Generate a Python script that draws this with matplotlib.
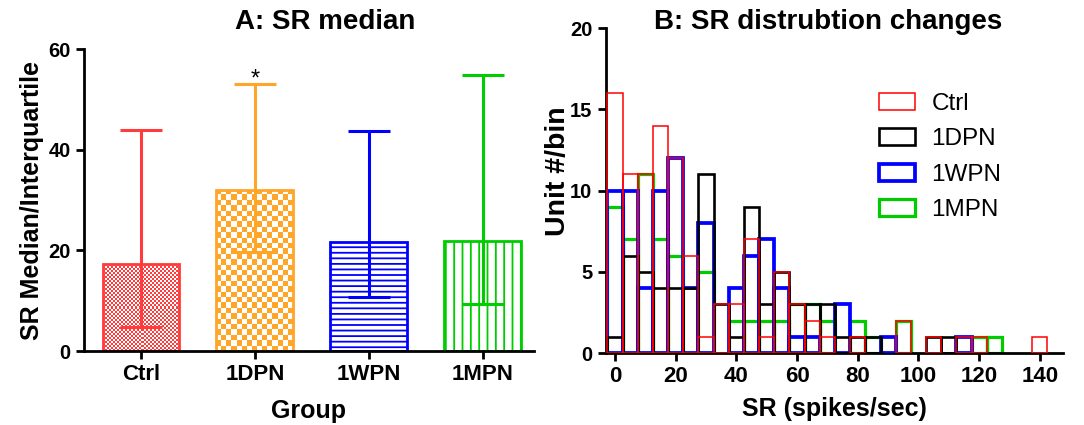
import numpy as np
import matplotlib
matplotlib.use('Agg')
import matplotlib.pyplot as plt
from matplotlib.colors import ListedColormap

plt.rcParams['font.family'] = ['Liberation Sans', 'DejaVu Sans']
plt.rcParams['hatch.linewidth'] = 1.3

# panel A : median + interquartile
groups = ['Ctrl', '1DPN', '1WPN', '1MPN']
medians = [17.2, 32.0, 21.7, 21.9]
q_low = [4.8, 19.6, 10.7, 9.3]
q_high = [44.0, 53.0, 43.7, 54.9]

# panel B : histogram counts, bins of 5 spikes/sec
bin_centers = np.arange(0, 145, 5)
ctrl = [16, 11, 11, 14, 12, 6, 1, 3, 3, 7, 1, 5, 3, 2, 1, 0, 1, 0, 0, 2, 0, 1, 0, 1, 1, 0, 0, 0, 1]
dpn1 = [1, 6, 5, 4, 4, 4, 11, 3, 1, 9, 3, 5, 3, 3, 3, 1, 1, 1, 0, 0, 0, 1, 1, 0, 0, 0, 0, 0, 0]
wpn1 = [10, 10, 4, 10, 12, 4, 8, 0, 4, 6, 7, 4, 1, 1, 0, 3, 0, 0, 1, 0, 0, 0, 0, 1, 0, 0, 0, 0, 0]
mpn1 = [9, 7, 11, 7, 6, 0, 5, 0, 2, 2, 2, 2, 3, 3, 2, 0, 2, 1, 0, 2, 0, 0, 0, 0, 1, 1, 0, 0, 0]

bar_cols = ['#ff3b3b', '#ffa528', '#0000ff', '#00cc00']


def style_axes(ax):
    for s in ['top', 'right']:
        ax.spines[s].set_visible(False)
    for s in ['left', 'bottom']:
        ax.spines[s].set_linewidth(2)
    ax.tick_params(width=2, length=6)
    ax.tick_params(axis='x', labelsize=16)
    ax.tick_params(axis='y', labelsize=14.5)
    for lab in ax.get_xticklabels() + ax.get_yticklabels():
        lab.set_fontweight('bold')


def checker(ax, bar, color, cell_px):
    # damier dessine sous la barre, coupe au rectangle
    x0, y0 = bar.get_x(), bar.get_y()
    w, h = bar.get_width(), bar.get_height()
    p0 = ax.transData.transform((x0, y0))
    p1 = ax.transData.transform((x0 + w, y0 + h))
    nx = max(1, int(round((p1[0] - p0[0]) / cell_px)))
    ny = max(1, int(round((p1[1] - p0[1]) / cell_px)))
    grid = np.add.outer(np.arange(ny), np.arange(nx)) % 2
    im = ax.imshow(grid, cmap=ListedColormap(['white', color]),
                   extent=[x0, x0 + w, y0, y0 + h], origin='lower',
                   aspect='auto', interpolation='nearest', zorder=1)
    im.set_clip_path(bar)


fig = plt.figure(figsize=(10.84, 4.25), dpi=100)

# ---------------- A ----------------
axA = fig.add_axes([0.0775, 0.174, 0.415, 0.7106])
x = np.arange(len(groups))
axA.set_xlim(-0.5, 3.45)
axA.set_ylim(0, 60)
hatches = [None, None, '---', '||']
bars = []
for i in range(len(groups)):
    b = axA.bar(x[i], medians[i], width=0.675, facecolor='none',
                edgecolor=bar_cols[i], linewidth=2, hatch=hatches[i], zorder=2)
    bars.append(b[0])
checker(axA, bars[0], bar_cols[0], 2.0)
checker(axA, bars[1], bar_cols[1], 5.3)
for i in range(len(groups)):
    axA.errorbar(x[i], medians[i],
                 yerr=[[medians[i] - q_low[i]], [q_high[i] - medians[i]]],
                 fmt='none', ecolor=bar_cols[i], elinewidth=2.2,
                 capsize=15, capthick=2.2, zorder=3)
axA.text(1, 51.8, '*', ha='center', va='bottom', fontsize=17)
axA.set_xlim(-0.5, 3.45)
axA.set_ylim(0, 60)
axA.set_xticks(x)
axA.set_xticklabels(groups)
axA.set_yticks([0, 20, 40, 60])
style_axes(axA)
axA.set_xlabel('Group', fontsize=18, fontweight='bold', labelpad=10)
axA.set_ylabel('SR Median/Interquartile', fontsize=18, fontweight='bold')
axA.yaxis.set_label_coords(-0.09, 0.5)

# ---------------- B ----------------
axB = fig.add_axes([0.5586, 0.1694, 0.422, 0.7647])
series = [('Ctrl', ctrl, '#ff0000', 1.1, 5),
          ('1DPN', dpn1, 'black', 1.9, 4),
          ('1WPN', wpn1, '#0000ff', 2.7, 3),
          ('1MPN', mpn1, '#00cc00', 2.3, 2)]
handles = []
for name, vals, col, lw, z in series:
    vals = np.array(vals)
    m = vals > 0
    b = axB.bar(bin_centers[m], vals[m], width=5, fill=False,
                edgecolor=col, linewidth=lw, zorder=z, label=name)
    handles.append(b)
axB.set_xlim(-3.1, 147.6)
axB.set_ylim(0, 20)
axB.set_xticks(np.arange(0, 141, 20))
axB.set_yticks([0, 5, 10, 15, 20])
style_axes(axB)
axB.set_xlabel('SR (spikes/sec)', fontsize=18, fontweight='bold', labelpad=7)
axB.set_ylabel('Unit #/bin', fontsize=20.5, fontweight='bold')
axB.yaxis.set_label_coords(-0.075, 0.56)
axB.legend(handles=handles, loc='upper left', bbox_to_anchor=(0.80, 0.81),
           bbox_transform=fig.transFigure, frameon=False, fontsize=17.5,
           handlelength=1.45, handleheight=0.7, labelspacing=0.55,
           handletextpad=0.7, borderpad=0)

fig.text(325 / 1084, 1 - 22 / 425, 'A: SR median', ha='center', va='center',
         fontsize=20, fontweight='bold')
fig.text(828 / 1084, 1 - 22 / 425, 'B: SR distrubtion changes', ha='center',
         va='center', fontsize=20, fontweight='bold')

fig.savefig('out.png', dpi=100)
